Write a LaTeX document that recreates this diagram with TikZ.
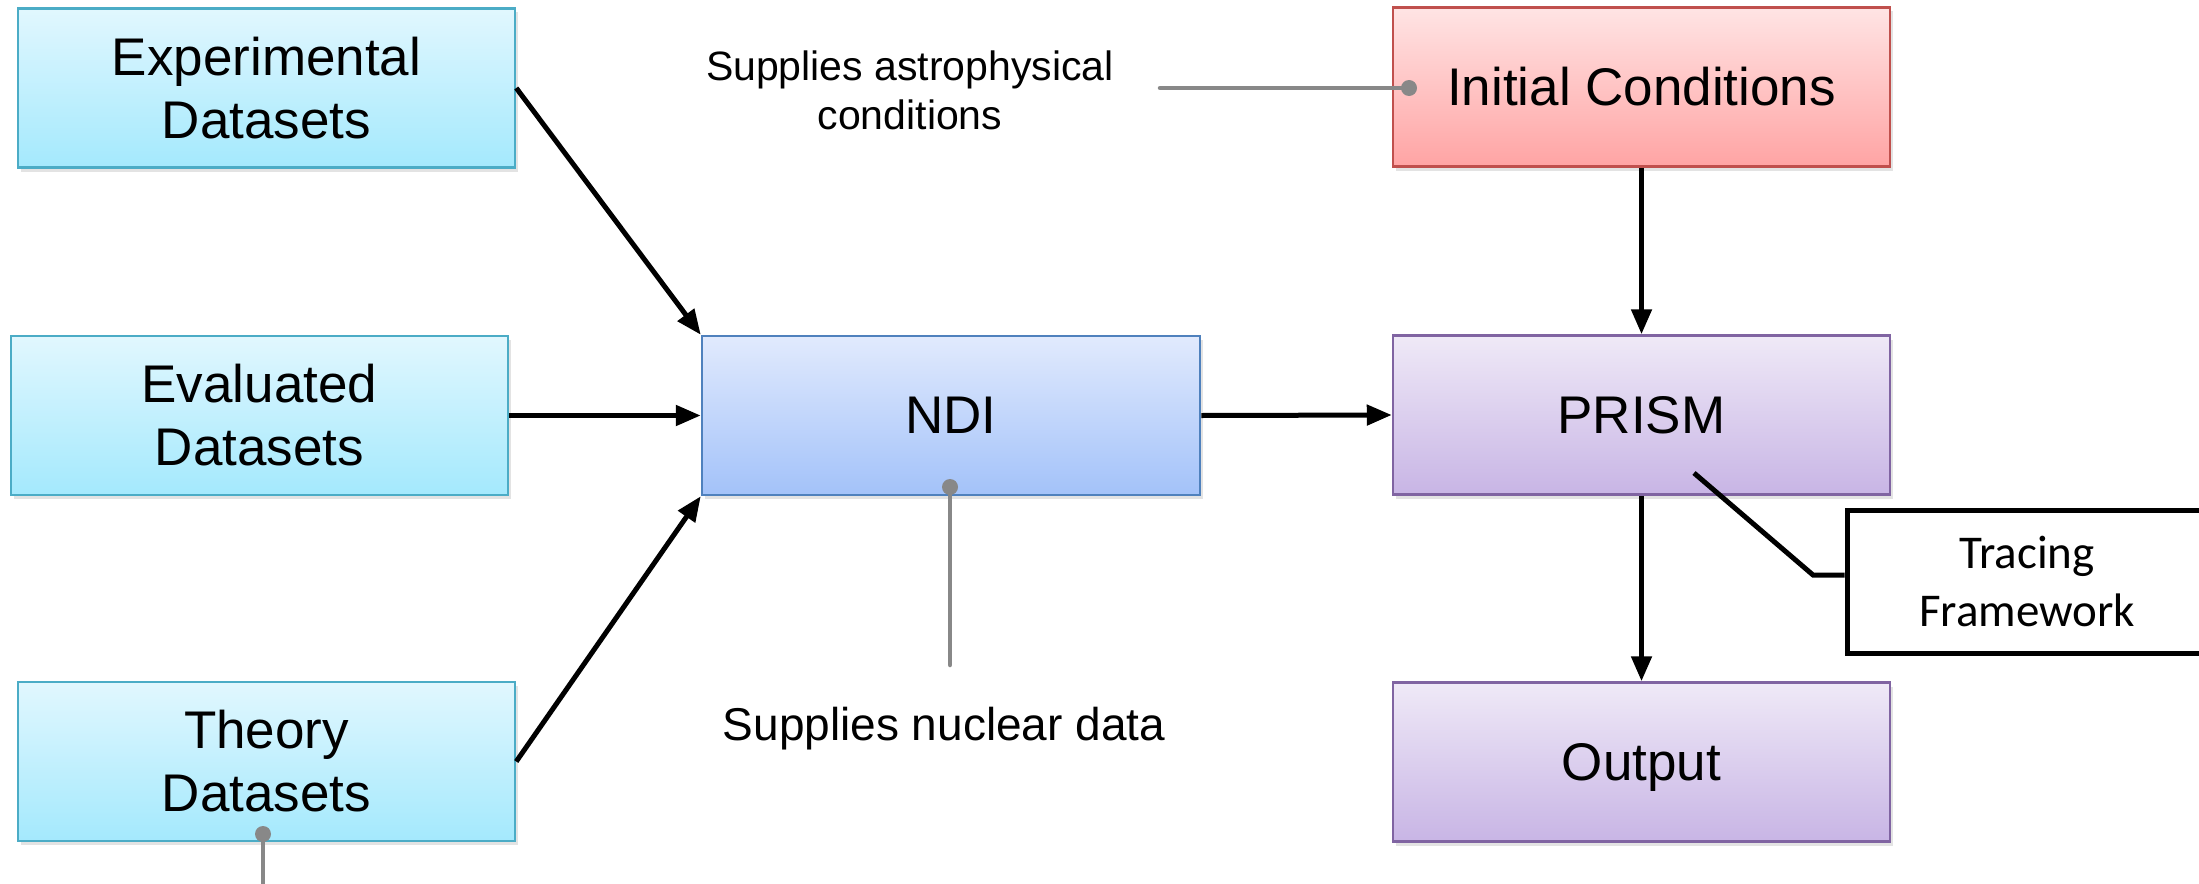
\documentclass[tikz,border=0pt]{standalone}
\usepackage{fontspec}
\setmainfont{Liberation Sans}
\newfontfamily\calib{Carlito}
\usetikzlibrary{arrows.meta,shadows}
\definecolor{dsTop}{HTML}{E1F7FE}
\definecolor{dsBot}{HTML}{A4E9FD}
\definecolor{dsBorder}{HTML}{4BACC6}
\definecolor{ndTop}{HTML}{E1EAFD}
\definecolor{ndBot}{HTML}{A3C2F9}
\definecolor{ndBorder}{HTML}{4F81BD}
\definecolor{icTop}{HTML}{FFE4E4}
\definecolor{icBot}{HTML}{FFA4A4}
\definecolor{icBorder}{HTML}{C0504D}
\definecolor{prTop}{HTML}{EFE9F7}
\definecolor{prBot}{HTML}{C8B5E5}
\definecolor{prBorder}{HTML}{8064A2}
\definecolor{noteGray}{HTML}{888888}
\begin{document}
\begin{tikzpicture}[x=1pt,y=-1pt,
  box/.style={draw, line width=2.5pt, minimum width=497pt, minimum height=159pt,
    inner sep=0pt, align=center, font=\fontsize{53}{63}\selectfont,
    drop shadow={opacity=0.22,shadow xshift=3pt,shadow yshift=-4pt}},
  dsbox/.style={box, draw=dsBorder, top color=dsTop, bottom color=dsBot},
  ndbox/.style={box, draw=ndBorder, top color=ndTop, bottom color=ndBot},
  icbox/.style={box, draw=icBorder, top color=icTop, bottom color=icBot},
  prbox/.style={box, draw=prBorder, top color=prTop, bottom color=prBot},
  flow/.style={line width=5pt, -{Triangle[length=25pt,width=20pt]}},
  note/.style={draw=noteGray, line width=4.5pt, line cap=round},
  notedot/.style={fill=noteGray},
  notetext/.style={align=center, inner sep=0pt},
  callout/.style={draw=black, line width=5pt, line join=miter},
]
\useasboundingbox (0,0) rectangle (2199,883);
\fill[white] (0,0) rectangle (2199,883);
\begin{scope}
\clip (0,0) rectangle (2199,883);

% boxes
\node[dsbox] (exp) at (266.5,88) {Experimental\\Datasets};
\node[dsbox] (eval) at (259.5,415.5) {Evaluated\\Datasets};
\node[dsbox] (theory) at (266.5,761.5) {Theory\\Datasets};
\node[ndbox, minimum width=498pt] (ndi) at (951,415.5) {NDI};
\node[icbox] (ic) at (1641.5,87) {Initial Conditions};
\node[prbox] (prism) at (1641.5,415) {PRISM};
\node[prbox, text depth=0pt] (output) at (1641.5,762) {Output};

% tracing framework callout
\node[callout, minimum width=360pt, minimum height=143pt, inner sep=0pt,
  align=center, font=\calib\fontsize{47}{58}\selectfont] (trace) at (2027,581.5)
  {Tracing\\Framework};
\coordinate (tstart) at (1694,473);
\coordinate (telbow) at (1813,575);
\draw[callout] (tstart) -- (telbow) -- (telbow -| trace.west);

% flow arrows
\draw[flow] (exp.east) -- (ndi.north west);
\draw[flow] (eval.east) -- (ndi.west);
\draw[flow] (theory.east) -- (ndi.south west);
\draw[flow] (ndi.east) -- (prism.west);
\draw[flow] (ic.south) -- (prism.north);
\draw[flow] (prism.south) -- (output.north);

% annotations
\node[notetext, font=\fontsize{41}{49}\selectfont] (astro) at (910,90)
  {Supplies astrophysical\\conditions};
\coordinate (astroline) at (1160,88);
\coordinate (icdot) at (1409,88);
\draw[note] (astroline) -- (icdot);
\fill[notedot] (icdot) circle (8pt);

\node[notetext, font=\fontsize{46}{55}\selectfont] (nuclear) at (944,729)
  {Supplies nuclear data};
\coordinate (ndidot) at (950,487);
\coordinate (ndiend) at (950,665);
\draw[note] (ndidot) -- (ndiend);
\fill[notedot] (ndidot) circle (8pt);

\coordinate (thdot) at (263,834);
\coordinate (thend) at (263,900);
\draw[note] (thdot) -- (thend);
\fill[notedot] (thdot) circle (8pt);
\end{scope}
\end{tikzpicture}
\end{document}
